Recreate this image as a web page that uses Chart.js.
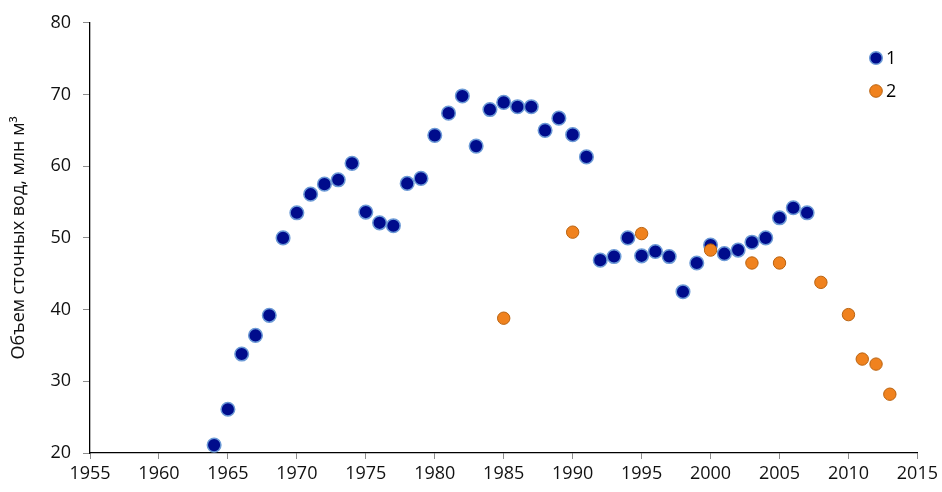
<!DOCTYPE html>
<html>
<head>
<meta charset="utf-8">
<script src="https://cdn.jsdelivr.net/npm/chart.js@4.4.1/dist/chart.umd.min.js"></script>
<style>
  html, body { margin: 0; padding: 0; background: #fff; }
  #wrap { width: 942px; height: 492px; position: relative; }
</style>
</head>
<body>
<div id="wrap"><canvas id="wasteChart"></canvas></div>
<script>
const years1 = [1964, 1965, 1966, 1967, 1968, 1969, 1970, 1971, 1972, 1973, 1974, 1975, 1976, 1977,
  1978, 1979, 1980, 1981, 1982, 1983, 1984, 1985, 1986, 1987, 1988, 1989, 1990, 1991, 1992, 1993,
  1994, 1995, 1996, 1997, 1998, 1999, 2000, 2001, 2002, 2003, 2004, 2005, 2006, 2007];
const values1 = [21.1, 26.1, 33.8, 36.4, 39.2, 50.0, 53.5, 56.1, 57.5, 58.1, 60.4, 53.6, 52.1, 51.7,
  57.6, 58.3, 64.3, 67.4, 69.8, 62.8, 67.9, 68.9, 68.3, 68.3, 65.0, 66.7, 64.4, 61.3, 46.9, 47.4,
  50.0, 47.5, 48.1, 47.4, 42.5, 46.5, 49.0, 47.8, 48.3, 49.4, 50.0, 52.8, 54.2, 53.5];

const years2 = [1985, 1990, 1995, 2000, 2003, 2005, 2008, 2010, 2011, 2012, 2013];
const values2 = [38.8, 50.8, 50.6, 48.3, 46.5, 46.5, 43.8, 39.3, 33.1, 32.4, 28.2];

const seriesNames = ['1', '2'];
const xTicks = [1955, 1960, 1965, 1970, 1975, 1980, 1985, 1990, 1995, 2000, 2005, 2010, 2015];
const yTicks = [20, 30, 40, 50, 60, 70, 80];

const blueFill = '#000c8c', blueEdge = '#6c9ad6';
const orangeFill = '#f0821e', orangeEdge = '#b9620f';
const fontFamily = "'Open Sans', 'Liberation Sans', sans-serif";

function toPoints(xs, ys) {
  return xs.map(function (x, i) { return { x: x, y: ys[i] }; });
}

// legend in the upper right corner, like the original
const cornerLegend = {
  id: 'cornerLegend',
  afterDraw: function (chart) {
    const c = chart.ctx;
    const items = [
      { label: seriesNames[0], fill: blueFill, edge: blueEdge, y: 58, w: 1.5 },
      { label: seriesNames[1], fill: orangeFill, edge: orangeEdge, y: 91, w: 1 }
    ];
    c.save();
    c.font = '18px ' + fontFamily;
    c.textBaseline = 'middle';
    items.forEach(function (it) {
      c.beginPath();
      c.arc(876, it.y, 6.3, 0, Math.PI * 2);
      c.fillStyle = it.fill;
      c.fill();
      c.lineWidth = it.w;
      c.strokeStyle = it.edge;
      c.stroke();
      c.fillStyle = '#000';
      c.fillText(it.label, 886, it.y + 1);
    });
    c.restore();
  }
};

new Chart(document.getElementById('wasteChart').getContext('2d'), {
  type: 'scatter',
  data: {
    datasets: [{
      label: seriesNames[0],
      data: toPoints(years1, values1),
      backgroundColor: blueFill,
      borderColor: blueEdge,
      borderWidth: 1.5,
      pointRadius: 6.8,
      pointHoverRadius: 6.8,
      order: 1
    }, {
      label: seriesNames[1],
      data: toPoints(years2, values2),
      backgroundColor: orangeFill,
      borderColor: orangeEdge,
      borderWidth: 1,
      pointRadius: 6.2,
      pointHoverRadius: 6.2,
      order: 0
    }]
  },
  options: {
    responsive: true,
    maintainAspectRatio: false,
    animation: false,
    layout: { padding: { top: 21, right: 24, left: 0, bottom: 0 } },
    plugins: {
      legend: { display: false },
      tooltip: { enabled: false }
    },
    scales: {
      x: {
        type: 'linear',
        min: xTicks[0],
        max: xTicks[xTicks.length - 1],
        afterBuildTicks: function (s) { s.ticks = xTicks.map(function (v) { return { value: v }; }); },
        afterFit: function (s) { s.height = 39; },
        grid: { drawOnChartArea: false, drawTicks: true, tickLength: 6, color: '#8c8c8c' },
        border: { display: true, color: '#000', width: 1.3 },
        ticks: {
          color: '#111',
          padding: 4,
          maxRotation: 0,
          font: { family: fontFamily, size: 18 },
          callback: function (v) { return String(v); }
        }
      },
      y: {
        min: yTicks[0],
        max: yTicks[yTicks.length - 1],
        afterBuildTicks: function (s) { s.ticks = yTicks.map(function (v) { return { value: v }; }); },
        afterFit: function (s) { s.width = 90; },
        grid: { drawOnChartArea: false, drawTicks: true, tickLength: 7, color: '#8c8c8c' },
        border: { display: true, color: '#000', width: 1.3 },
        title: {
          display: true,
          text: 'Объем сточных вод, млн м³',
          color: '#111',
          padding: { top: 8, bottom: 0 },
          font: { family: fontFamily, size: 18 }
        },
        ticks: {
          color: '#111',
          padding: 12,
          font: { family: fontFamily, size: 18 }
        }
      }
    }
  },
  plugins: [cornerLegend]
});
</script>
</body>
</html>
